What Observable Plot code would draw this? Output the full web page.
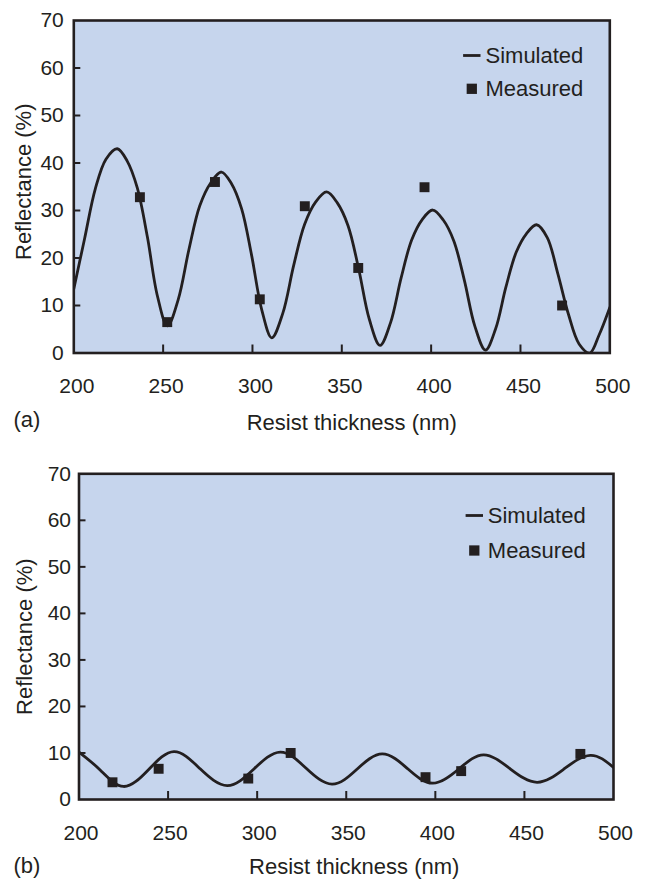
<!DOCTYPE html>
<html>
<head>
<meta charset="utf-8">
<script src="https://cdn.jsdelivr.net/npm/d3@7"></script>
<script src="https://cdn.jsdelivr.net/npm/@observablehq/plot@0.6"></script>
<style>
  html, body { margin: 0; padding: 0; background: #ffffff; }
  #wrap { width: 645px; height: 879px; overflow: hidden; }
  #wrap svg { display: block; }
</style>
</head>
<body>
<div id="wrap"></div>
<script>
// ---------- data ----------
const xTicks = [200, 250, 300, 350, 400, 450, 500];
const yTicks = [0, 10, 20, 30, 40, 50, 60, 70];
const xLabel = "Resist thickness (nm)";
const yLabel = "Reflectance (%)";
const seriesNames = ["Simulated", "Measured"];
const panelTags = ["(a)", "(b)"];

// Panel (a): simulated reflectance
const simAThickness = [200, 206, 212, 218, 224.3,
  229.9, 235.5, 241.2, 246.8, 252.4,
  258.4, 264.5, 270.5, 276.6, 282.6,
  288.2, 293.9, 299.5, 305.2, 310.8,
  317.0, 323.1, 329.2, 335.4, 341.5,
  347.5, 353.5, 359.4, 365.4, 371.4,
  377.3, 383.2, 389.1, 395.0, 400.9,
  406.8, 412.7, 418.6, 424.5, 430.4,
  436.1, 441.8, 447.6, 453.3, 459.0,
  465.0, 470.9, 476.9, 482.8, 488.8,
  494.0, 500];
const simAReflectance = [13.5, 24, 34.5, 40.8, 43,
  40.4, 34.8, 24.4, 12.0, 5.7,
  11.2, 21.9, 31.0, 35.8, 38.1,
  35.7, 30.4, 20.6, 9.1, 3.2,
  8.4, 18.5, 27.1, 31.8, 33.9,
  31.6, 26.8, 17.8, 7.1, 1.6,
  6.4, 15.8, 23.8, 28.1, 30.1,
  28.0, 23.6, 15.3, 5.6, 0.6,
  5.1, 13.8, 21.2, 25.1, 27.0,
  24.3, 16.7, 8.1, 1.9, 0.0,
  3.8, 9.6];
// Panel (a): measured points
const measAThickness = [237, 252.3, 279, 304.1, 329.3, 359.2, 396.3, 473.3];
const measAReflectance = [32.8, 6.5, 36, 11.3, 30.9, 17.9, 34.9, 10];

// Panel (b): simulated reflectance
const simBThickness = [200, 212, 225, 239, 253.3, 268, 283.2, 298, 313, 327.5, 342, 356, 370.2, 384.5,
  398.5, 413, 427.1, 442, 457.1, 472, 487, 500];
const simBReflectance = [10.2, 6.3, 2.8, 6.4, 10.3, 6.6, 3.0, 6.5, 10.2, 6.7, 3.3, 6.5, 9.8, 6.6,
  3.5, 6.5, 9.6, 6.6, 3.7, 6.5, 9.5, 6.9];
// Panel (b): measured points
const measBThickness = [218.8, 244.7, 295, 318.8, 394.5, 414.5, 481.4];
const measBReflectance = [3.7, 6.6, 4.5, 10, 4.8, 6.1, 9.8];

// ---------- style ----------
const INK = "#231f20";
const BG = "#c6d5ed";
const FONT = "'Liberation Sans', Arial, Helvetica, sans-serif";

const zip = (xs, ys) => xs.map((x, i) => ({t: x, r: ys[i]}));

const lineSymbol = {
  draw(context, size) {
    const h = Math.sqrt(size / Math.PI);
    context.moveTo(-h, 0);
    context.lineTo(h, 0);
  }
};

function panel(cfg) {
  const innerW = cfg.width - cfg.ml - cfg.mr;
  const innerH = cfg.height - cfg.mt - cfg.mb;
  const sim = zip(cfg.simX, cfg.simY);
  const meas = zip(cfg.measX, cfg.measY);
  const txt = {fill: INK, lineAnchor: "middle"};
  return Plot.plot({
    width: cfg.width,
    height: cfg.height,
    marginLeft: cfg.ml,
    marginRight: cfg.mr,
    marginTop: cfg.mt,
    marginBottom: cfg.mb,
    style: {fontFamily: FONT, fontSize: "21px", color: INK, background: "transparent", overflow: "visible"},
    x: {domain: [xTicks[0], xTicks[xTicks.length - 1]], axis: null},
    y: {domain: [yTicks[0], yTicks[yTicks.length - 1]], axis: null},
    marks: [
      Plot.frame({fill: BG, stroke: null}),
      Plot.line(sim, {x: "t", y: "r", stroke: INK, strokeWidth: 2.8, curve: cfg.curve, clip: true}),
      Plot.dot(meas, {x: "t", y: "r", symbol: "square", r: 5.6, fill: INK, stroke: null}),
      Plot.tickX(xTicks.slice(1, -1), {x: d => d, stroke: INK, strokeWidth: 2, insetTop: innerH - 8}),
      Plot.tickY(yTicks.slice(1, -1), {y: d => d, stroke: INK, strokeWidth: 2, insetRight: innerW - 7}),
      Plot.frame({stroke: INK, strokeWidth: 2.6}),
      Plot.axisX(xTicks, {tickSize: 0, tickPadding: cfg.xPad, dx: cfg.xDx, label: null, fontSize: 21, fill: INK}),
      Plot.axisY(yTicks, {tickSize: 0, tickPadding: cfg.yPad, label: null, fontSize: 21, fill: INK}),
      Plot.text([yLabel], {...txt, frameAnchor: "left", textAnchor: "middle", rotate: -90, dx: cfg.yLabDx, dy: cfg.yLabDy, fontSize: 22}),
      Plot.text([xLabel], {...txt, frameAnchor: "bottom", textAnchor: "middle", dx: cfg.xLabDx, dy: cfg.xLabDy, fontSize: 22}),
      Plot.text([cfg.tag], {...txt, frameAnchor: "bottom-left", textAnchor: "start", dx: cfg.tagDx, dy: cfg.tagDy, fontSize: 22}),
      // legend
      Plot.dot([seriesNames[0]], {frameAnchor: "top-right", dx: cfg.legDx, dy: cfg.legDy1, symbol: lineSymbol, r: 8.7, stroke: INK, strokeWidth: 2.8, fill: "none"}),
      Plot.dot([seriesNames[1]], {frameAnchor: "top-right", dx: cfg.legDx, dy: cfg.legDy2, symbol: "square", r: 5.8, fill: INK, stroke: null}),
      Plot.text([seriesNames[0]], {...txt, frameAnchor: "top-right", textAnchor: "start", dx: cfg.legTx, dy: cfg.legDy1, fontSize: 22}),
      Plot.text([seriesNames[1]], {...txt, frameAnchor: "top-right", textAnchor: "start", dx: cfg.legTx, dy: cfg.legDy2, fontSize: 22})
    ]
  });
}

const wrap = document.getElementById("wrap");
wrap.appendChild(panel({
  width: 645, height: 440, ml: 73.3, mr: 35.7, mt: 20, mb: 87.5,
  simX: simAThickness, simY: simAReflectance, measX: measAThickness, measY: measAReflectance,
  curve: "catmull-rom",
  xPad: 25.5, xDx: 3, yPad: 10,
  yLabDx: -50.3, yLabDy: -5, xLabDx: 10, xLabDy: 69.5,
  tag: panelTags[0], tagDx: -60.3, tagDy: 67,
  legDx: -138, legTx: -124.3, legDy1: 35, legDy2: 68.3
}));
wrap.appendChild(panel({
  width: 645, height: 439, ml: 78.5, mr: 32, mt: 33.3, mb: 80,
  simX: simBThickness, simY: simBReflectance, measX: measBThickness, measY: measBReflectance,
  curve: "natural",
  xPad: 26, xDx: 2, yPad: 8,
  yLabDx: -54, yLabDy: 0, xLabDx: 8, xLabDy: 67,
  tag: panelTags[1], tagDx: -65.5, tagDy: 66.5,
  legDx: -139.2, legTx: -125.7, legDy1: 41.7, legDy2: 76.7
}));
</script>
</body>
</html>
